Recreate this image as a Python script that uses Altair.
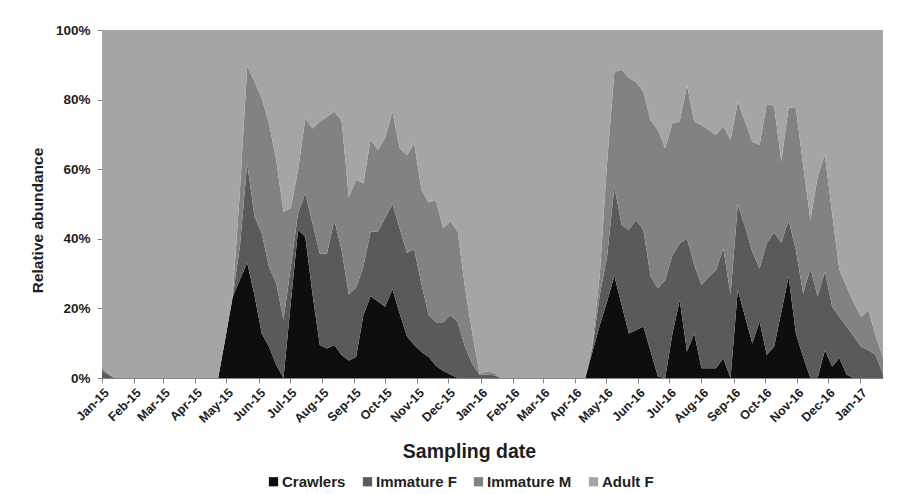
import altair as alt
import pandas as pd

stages = ["Crawlers", "Immature F", "Immature M", "Adult F"]
colors = ["#0e0e0e", "#5a5a5a", "#828282", "#a5a5a5"]

dates = [
    "2015-01-01", "2015-01-13",
    "2015-04-23", "2015-04-30", "2015-05-07", "2015-05-14", "2015-05-21", "2015-05-28",
    "2015-06-04", "2015-06-11", "2015-06-18", "2015-06-25", "2015-07-02", "2015-07-09",
    "2015-07-16", "2015-07-23", "2015-07-30", "2015-08-06", "2015-08-13", "2015-08-20",
    "2015-08-27", "2015-09-03", "2015-09-10", "2015-09-17", "2015-09-24", "2015-10-01",
    "2015-10-08", "2015-10-15", "2015-10-22", "2015-10-29", "2015-11-05", "2015-11-12",
    "2015-11-19", "2015-11-26", "2015-12-03", "2015-12-10", "2015-12-17", "2015-12-24",
    "2015-12-31", "2016-01-07", "2016-01-14", "2016-01-21",
    "2016-04-11", "2016-04-18", "2016-04-25", "2016-05-02", "2016-05-09", "2016-05-16",
    "2016-05-23", "2016-05-30", "2016-06-06", "2016-06-13", "2016-06-20", "2016-06-27",
    "2016-07-04", "2016-07-11", "2016-07-18", "2016-07-25", "2016-08-01", "2016-08-08",
    "2016-08-15", "2016-08-22", "2016-08-29", "2016-09-05", "2016-09-12", "2016-09-19",
    "2016-09-26", "2016-10-03", "2016-10-10", "2016-10-17", "2016-10-24", "2016-10-31",
    "2016-11-07", "2016-11-14", "2016-11-21", "2016-11-28", "2016-12-05", "2016-12-12",
    "2016-12-19", "2016-12-26", "2017-01-02", "2017-01-09", "2017-01-16", "2017-01-23",
]

crawlers = [
    0, 0,
    0, 11.5, 23.3, 28.3, 33.1, 23.8, 12.8, 9, 3.7, 0,
    21.5, 42.5, 40.6, 24, 9.5, 8.5, 9.5, 6.6, 5, 6,
    18, 23.5, 22, 20.5, 25.5, 18.5, 12, 9.5, 7.5, 6,
    3.5, 2, 1, 0, 0, 0, 0, 0, 0, 0,
    0, 7.7, 15.2, 22, 29.3, 21, 12.8, 13.8, 14.8, 7.6,
    0.4, 0, 12.8, 22.4, 7.6, 12.8, 2.8, 2.8, 2.8, 5.7,
    0, 25.3, 17.6, 10, 16.2, 6.6, 9, 19, 29.1, 12.8,
    6, 0, 0, 8, 3.3, 5.7, 0.9, 0, 0, 0, 0, 0,
]

immature_f = [
    2, 0,
    0, 0, 0, 9.7, 28.6, 22.6, 28.8, 23, 23.5, 16.7,
    10.5, 4.8, 12.5, 20.4, 26.3, 27.3, 35.9, 30.2, 19, 20,
    14, 18.5, 20, 25.5, 24.5, 24.5, 24, 27.5, 19.5, 12,
    12.5, 14, 17, 16, 9, 4, 1.0, 1.0, 0.8, 0,
    0, 1.3, 8.8, 13, 25.7, 23, 29.7, 31.6, 27.7, 21.5,
    25.4, 28.2, 22.5, 16.3, 32.5, 19.7, 23.9, 26.3, 28.2, 31.6,
    23.9, 24.7, 25.9, 26.3, 15.3, 32.3, 32.8, 19.9, 16.3, 24,
    18.3, 31.5, 23.4, 22.6, 17.2, 11.9, 13.9, 11.9, 9, 8, 6.6, 1,
]

immature_m = [
    0.8, 0,
    0, 0, 0.2, 16, 27.8, 38.8, 38.8, 41.2, 35.4, 31.1,
    16.8, 12.5, 21.5, 27.3, 37.9, 39.3, 31.1, 37.2, 28, 31,
    24, 26.5, 23.5, 23, 26.5, 23, 28, 30.5, 27, 32.5,
    35, 27, 27, 26, 17, 9, 0.3, 0.8, 0.7, 0,
    0, 1, 6, 27, 33, 44.6, 43.8, 39.6, 39.8, 44.9,
    45.5, 37.8, 37.9, 35, 44.1, 41.2, 46, 42.2, 38.8, 35.1,
    44.5, 29.4, 30.2, 31.6, 35.5, 39.8, 36.4, 23.3, 32.4, 40.7,
    36.9, 13.9, 34.5, 33.5, 26.8, 13.4, 11.4, 9.6, 8.6, 11.5, 5.4, 5,
]

adult_f = [
    97.2, 100,
    100, 88.5, 76.5, 46, 10.5, 14.8, 19.6, 26.8, 37.4, 52.2,
    51.2, 40.2, 25.4, 28.3, 26.3, 24.9, 23.5, 26, 48, 43,
    44, 31.5, 34.5, 31, 23.5, 34, 36, 32.5, 46, 49.5,
    49, 57, 55, 58, 74, 87, 98.7, 98.2, 98.5, 100,
    100, 90, 70, 38, 12, 11.4, 13.7, 15, 17.7, 26,
    28.7, 34, 26.8, 26.3, 15.8, 26.3, 27.3, 28.7, 30.2, 27.6,
    31.6, 20.6, 26.3, 32.1, 33, 21.3, 21.8, 37.8, 22.2, 22.5,
    38.8, 54.6, 42.1, 35.9, 52.7, 69, 73.8, 78.5, 82.4, 80.5, 88, 94,
]

month_ticks = [(y, m) for y in (2015, 2016) for m in range(1, 13)] + [(2017, 1)]

df = pd.DataFrame({
    "date": dates,
    "Crawlers": crawlers,
    "Immature F": immature_f,
    "Immature M": immature_m,
    "Adult F": adult_f,
})
long = df.melt(id_vars="date", var_name="stage", value_name="pct")
long["ord"] = long["stage"].map({s: i for i, s in enumerate(stages)})

FONT = "Liberation Sans"
TXT = "#1e1e1e"
AX = "#868686"

x_axis = alt.Axis(
    title="Sampling date",
    values=[alt.DateTime(year=y, month=m, date=1, utc=True) for y, m in month_ticks],
    format="%b-%y",
    labelAngle=-45,
    labelAlign="right",
    labelBaseline="top",
    labelPadding=3,
    labelFont=FONT,
    labelFontSize=12.5,
    labelFontWeight="bold",
    labelColor=TXT,
    labelOverlap=False,
    tickSize=5,
    tickColor=AX,
    domainColor=AX,
    grid=False,
    titleFont=FONT,
    titleFontSize=19.5,
    titleFontWeight="bold",
    titleColor=TXT,
    titleX=367,
    titleY=79,
    titleAlign="center",
    titleBaseline="alphabetic",
)

y_axis = alt.Axis(
    title="Relative abundance",
    values=[0, 0.2, 0.4, 0.6, 0.8, 1.0],
    format=".0%",
    labelFont=FONT,
    labelFontSize=13.5,
    labelFontWeight="bold",
    labelColor=TXT,
    labelPadding=7,
    tickSize=5,
    tickColor=AX,
    domainColor=AX,
    grid=False,
    titleFont=FONT,
    titleFontSize=15.5,
    titleFontWeight="bold",
    titleColor=TXT,
    titleAngle=270,
    titleX=-65,
    titleY=190,
    titleAlign="center",
    titleBaseline="middle",
)

legend = alt.Legend(
    title=None,
    orient="none",
    direction="horizontal",
    legendX=164,
    legendY=444,
    symbolType="square",
    symbolSize=85,
    symbolStrokeWidth=0,
    labelFont=FONT,
    labelFontSize=15,
    labelFontWeight="bold",
    labelColor=TXT,
    labelOffset=1,
    columnPadding=14,
    padding=0,
)

chart = (
    alt.Chart(long)
    .mark_area(interpolate="linear")
    .encode(
        x=alt.X(
            "date:T",
            scale=alt.Scale(
                type="utc",
                domain=[
                    alt.DateTime(year=2015, month=1, date=1, utc=True),
                    alt.DateTime(year=2017, month=1, date=23, utc=True),
                ],
                nice=False,
            ),
            axis=x_axis,
        ),
        y=alt.Y("pct:Q", stack="normalize", scale=alt.Scale(domain=[0, 1]), axis=y_axis),
        color=alt.Color(
            "stage:N",
            scale=alt.Scale(domain=stages, range=colors),
            sort=stages,
            legend=legend,
        ),
        order=alt.Order("ord:Q", sort="ascending"),
    )
    .properties(
        width=781,
        height=348,
        autosize=alt.AutoSizeParams(type="none"),
        padding={"left": 94, "top": 22, "right": 18, "bottom": 116},
        background="white",
    )
    .configure_view(stroke=None)
)

chart.save("out.html", embed_options={"renderer": "svg", "actions": False})
